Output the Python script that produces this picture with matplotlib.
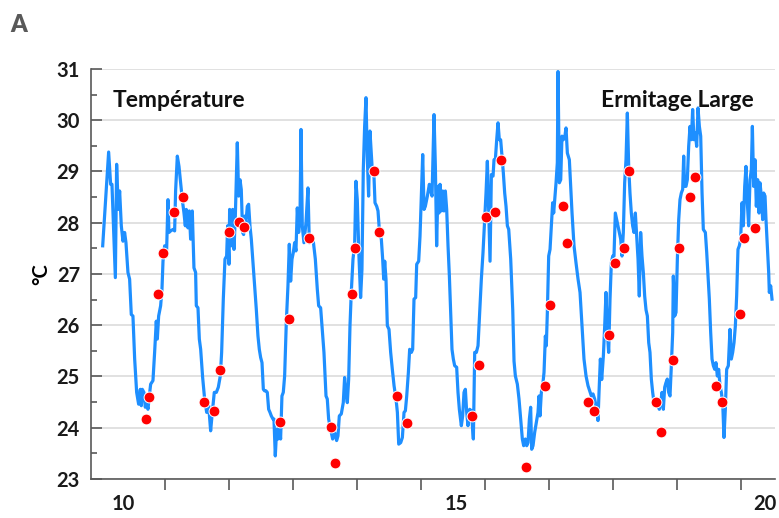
import matplotlib
matplotlib.use("Agg")
import matplotlib.pyplot as plt
from matplotlib.ticker import MultipleLocator, FixedLocator

plt.rcParams['font.family'] = ['Lato', 'DejaVu Sans']
plt.rcParams['font.weight'] = 'bold'

# logger record (day, degC)
day = [9.518, 9.611, 9.642, 9.663, 9.690, 9.716, 9.736, 9.762, 9.783, 9.809, 9.835, 9.861, 9.882, 9.913, 9.939,
       9.965, 9.991, 10.018, 10.049, 10.080, 10.106, 10.122, 10.137, 10.163, 10.184, 10.205, 10.226, 10.247, 10.268,
       10.304, 10.330, 10.356, 10.372, 10.393, 10.424, 10.445, 10.461, 10.487, 10.518, 10.539, 10.554, 10.580, 10.617,
       10.643, 10.658, 10.685, 10.711, 10.737, 10.763, 10.789, 10.810, 10.825, 10.851, 10.872, 10.893, 10.919, 10.945,
       10.971, 10.982, 11.008, 11.029, 11.050, 11.081, 11.112, 11.144, 11.175, 11.206, 11.232, 11.263, 11.295, 11.326,
       11.357, 11.378, 11.404, 11.430, 11.456, 11.472, 11.493, 11.503, 11.529, 11.550, 11.571, 11.592, 11.623, 11.644,
       11.665, 11.685, 11.706, 11.722, 11.738, 11.758, 11.779, 11.800, 11.821, 11.842, 11.868, 11.894, 11.920, 11.946,
       11.967, 11.988, 12.009, 12.030, 12.050, 12.071, 12.092, 12.113, 12.134, 12.155, 12.181, 12.196, 12.217, 12.238,
       12.259, 12.279, 12.300, 12.321, 12.342, 12.363, 12.389, 12.415, 12.436, 12.457, 12.478, 12.499, 12.519, 12.540,
       12.561, 12.582, 12.603, 12.619, 12.639, 12.665, 12.697, 12.728, 12.749, 12.780, 12.811, 12.843, 12.874, 12.895,
       12.926, 12.947, 12.978, 13.010, 13.030, 13.051, 13.082, 13.114, 13.145, 13.176, 13.197, 13.218, 13.249, 13.280,
       13.301, 13.322, 13.343, 13.364, 13.385, 13.405, 13.432, 13.458, 13.478, 13.499, 13.525, 13.551, 13.572, 13.593,
       13.614, 13.635, 13.655, 13.676, 13.697, 13.730, 13.756, 13.776, 13.803, 13.823, 13.849, 13.875, 13.896, 13.912,
       13.928, 13.948, 13.969, 13.995, 14.021, 14.047, 14.074, 14.105, 14.126, 14.147, 14.178, 14.204, 14.230, 14.251,
       14.272, 14.298, 14.318, 14.345, 14.365, 14.386, 14.412, 14.428, 14.459, 14.480, 14.501, 14.522, 14.543, 14.563,
       14.595, 14.626, 14.647, 14.668, 14.699, 14.720, 14.740, 14.761, 14.777, 14.793, 14.814, 14.835, 14.855, 14.876,
       14.897, 14.918, 14.939, 14.960, 14.980, 15.001, 15.022, 15.053, 15.074, 15.095, 15.126, 15.147, 15.168, 15.189,
       15.210, 15.230, 15.257, 15.283, 15.314, 15.335, 15.361, 15.387, 15.413, 15.439, 15.465, 15.491, 15.512, 15.533,
       15.554, 15.575, 15.596, 15.622, 15.637, 15.658, 15.679, 15.700, 15.720, 15.741, 15.762, 15.783, 15.804, 15.825,
       15.846, 15.867, 15.898, 15.930, 15.950, 15.971, 16.002, 16.028, 16.054, 16.080, 16.101, 16.127, 16.148, 16.169,
       16.190, 16.210, 16.226, 16.247, 16.273, 16.299, 16.325, 16.341, 16.356, 16.377, 16.398, 16.419, 16.440, 16.455,
       16.471, 16.492, 16.513, 16.534, 16.554, 16.570, 16.586, 16.607, 16.627, 16.638, 16.659, 16.680, 16.700, 16.721,
       16.742, 16.763, 16.784, 16.815, 16.836, 16.857, 16.888, 16.919, 16.951, 16.982, 17.013, 17.044, 17.076, 17.107,
       17.133, 17.159, 17.185, 17.211, 17.232, 17.263, 17.279, 17.300, 17.321, 17.347, 17.368, 17.388, 17.409, 17.430,
       17.451, 17.472, 17.493, 17.513, 17.534, 17.555, 17.576, 17.597, 17.618, 17.638, 17.659, 17.680, 17.701, 17.722,
       17.743, 17.763, 17.784, 17.805, 17.826, 17.847, 17.868, 17.889, 17.909, 17.930, 17.951, 17.972, 17.993, 18.014,
       18.035, 18.056, 18.076, 18.097, 18.118, 18.139, 18.170, 18.201, 18.222, 18.243, 18.264, 18.285, 18.306, 18.326,
       18.347, 18.368, 18.389, 18.410, 18.431, 18.441, 18.462, 18.483, 18.504, 18.525, 18.545, 18.566, 18.587, 18.603,
       18.618, 18.639, 18.660, 18.681, 18.702, 18.723, 18.743, 18.764, 18.785, 18.806, 18.827, 18.848, 18.869, 18.890,
       18.910, 18.942, 18.963, 18.983, 19.004, 19.025, 19.046, 19.067, 19.088, 19.108, 19.129, 19.150, 19.171, 19.192,
       19.213, 19.233, 19.254, 19.275, 19.301, 19.327, 19.348, 19.369, 19.390, 19.411, 19.431, 19.452, 19.473, 19.494,
       19.515, 19.536, 19.557, 19.577, 19.598, 19.619, 19.640, 19.661, 19.677, 19.697, 19.718, 19.739, 19.760, 19.781,
       19.796, 19.817, 19.838, 19.853, 19.875, 19.890, 19.911, 19.932, 19.942, 19.963, 19.984]
temp = [27.55, 29.38, 28.75, 28.75, 27.80, 26.93, 29.14, 28.26, 28.62, 27.94, 27.64, 27.81, 27.61, 27.03, 26.90,
        26.21, 26.18, 25.34, 24.69, 24.46, 24.75, 24.43, 24.75, 24.69, 24.40, 24.49, 24.36, 24.62, 24.85,
        24.92, 25.47, 26.08, 25.73, 26.18, 26.38, 26.70, 27.25, 27.55, 27.48, 28.45, 27.81, 27.84, 27.87,
        27.84, 28.62, 29.30, 29.10, 28.78, 28.45, 28.19, 27.94, 28.26, 27.90, 28.23, 27.68, 28.23, 27.12,
        27.03, 26.38, 26.34, 25.73, 25.53, 24.98, 24.56, 24.30, 24.43, 23.94, 24.30, 24.69, 24.69, 24.79,
        25.01, 25.47, 26.51, 27.29, 27.35, 27.94, 27.19, 28.26, 27.55, 28.26, 27.48, 28.13, 29.56, 28.52,
        28.84, 28.65, 27.81, 27.77, 28.13, 28.00, 28.32, 28.36, 27.94, 27.68, 27.22, 26.77, 26.31, 25.79,
        25.53, 25.37, 25.27, 24.75, 24.72, 24.72, 24.69, 24.36, 24.30, 24.23, 24.17, 24.17, 23.45, 23.97,
        23.78, 24.04, 23.78, 24.62, 24.69, 25.01, 26.05, 26.77, 27.58, 26.86, 27.29, 27.42, 27.61, 27.45,
        28.29, 27.81, 28.06, 29.82, 27.94, 27.61, 28.00, 28.68, 27.61, 27.68, 27.64, 27.29, 26.70, 26.38,
        26.34, 25.99, 25.47, 24.62, 24.56, 24.17, 23.97, 23.78, 23.91, 23.75, 23.84, 24.23, 24.27, 24.49,
        24.98, 24.69, 24.49, 24.94, 25.99, 26.64, 27.29, 27.58, 28.81, 28.45, 27.35, 26.54, 27.09, 29.04,
        29.88, 30.44, 29.30, 28.52, 29.79, 29.10, 29.04, 28.39, 28.32, 28.23, 27.77, 27.68, 27.29, 26.90,
        27.25, 26.90, 25.99, 25.92, 25.47, 25.14, 24.82, 24.56, 24.30, 23.68, 23.71, 23.81, 24.30, 24.33,
        24.62, 25.08, 25.53, 25.47, 25.53, 26.51, 26.54, 27.19, 27.25, 27.74, 28.52, 29.33, 28.26, 28.32,
        28.52, 28.75, 28.62, 28.52, 30.11, 29.10, 27.55, 28.71, 28.19, 28.75, 28.23, 28.62, 28.23, 28.62,
        28.26, 27.55, 26.96, 26.25, 25.53, 25.34, 25.21, 25.18, 24.69, 24.36, 24.04, 24.23, 24.69, 24.75,
        24.30, 24.04, 24.36, 24.33, 23.78, 25.47, 25.47, 25.60, 26.25, 26.90, 27.42, 28.06, 28.58, 29.20,
        28.19, 27.25, 28.94, 28.91, 29.23, 29.23, 29.62, 29.95, 29.62, 29.62, 29.30, 28.97, 28.58, 28.32,
        27.94, 27.87, 27.29, 26.30, 25.30, 25.01, 24.85, 24.56, 24.17, 23.78, 23.65, 23.78, 23.65, 23.71,
        24.17, 24.40, 23.58, 23.65, 23.91, 24.10, 24.30, 24.62, 24.23, 24.69, 24.82, 25.08, 25.79, 25.60,
        26.25, 27.35, 27.48, 27.94, 28.39, 28.19, 28.45, 28.78, 29.17, 30.95, 28.78, 28.84, 29.69, 29.62,
        29.66, 29.85, 29.36, 29.23, 28.71, 28.19, 27.55, 27.22, 26.90, 26.64, 25.99, 25.34, 25.01, 24.82,
        24.72, 24.62, 24.66, 24.56, 24.43, 24.14, 24.69, 25.34, 24.94, 25.40, 25.99, 26.64, 25.86, 25.47,
        26.51, 27.22, 27.35, 27.35, 28.19, 28.06, 27.94, 27.81, 27.68, 27.35, 27.81, 28.78, 29.23, 30.14,
        29.10, 28.58, 28.19, 27.94, 27.81, 28.19, 27.74, 27.29, 26.57, 27.81, 27.35, 27.03, 26.57, 26.30,
        26.18, 25.66, 25.47, 24.95, 24.69, 24.49, 24.49, 24.43, 24.36, 24.49, 24.69, 24.36, 24.79, 24.88,
        24.95, 24.69, 24.62, 25.21, 25.86, 26.96, 26.18, 26.25, 27.29, 28.06, 28.45, 28.58, 28.65, 29.30,
        28.71, 28.71, 28.84, 29.49, 29.88, 29.62, 30.21, 29.62, 29.75, 29.49, 30.24, 29.88, 29.69, 28.58,
        27.87, 27.81, 27.42, 26.96, 26.51, 25.86, 25.34, 25.21, 25.14, 25.27, 25.01, 25.14, 24.82, 24.69,
        24.49, 23.81, 24.36, 25.14, 25.21, 25.92, 25.34, 25.47, 25.66, 25.99, 26.57, 27.48, 27.55, 27.68,
        28.39, 27.94, 28.71, 29.10, 28.39, 27.94, 28.84, 29.04, 29.88, 28.71, 29.23, 28.32, 28.84, 28.19,
        28.78, 28.52, 28.06, 28.58, 28.52, 28.06, 27.55, 27.03, 26.64, 26.77, 26.51]

# manual readings
dot_day = [10.200, 10.237, 10.383, 10.461, 10.633, 10.769, 11.097, 11.253, 11.347, 11.493, 11.649, 11.727,
           12.285, 12.436, 12.749, 13.093, 13.155, 13.416, 13.463, 13.757, 13.844, 14.126, 14.282, 15.293,
           15.403, 15.512, 15.658, 15.747, 16.143, 16.435, 16.513, 16.716, 16.779, 17.107, 17.201, 17.430,
           17.529, 17.675, 17.743, 18.165, 18.248, 18.441, 18.530, 18.707, 18.775, 19.103, 19.202, 19.479,
           19.546, 19.723]
dot_temp = [24.18, 24.60, 26.60, 27.40, 28.21, 28.51, 24.51, 24.32, 25.12, 27.81, 28.01, 27.92,
            24.12, 26.12, 27.71, 24.01, 23.31, 26.60, 27.50, 29.01, 27.81, 24.62, 24.10, 24.22,
            25.22, 28.11, 28.21, 29.22, 23.23, 24.81, 26.40, 28.32, 27.60, 24.51, 24.32, 25.81,
            27.21, 27.50, 29.01, 24.51, 23.91, 25.32, 27.50, 28.50, 28.90, 24.81, 24.51, 26.21,
            27.70, 27.90]

day_labels = ['10', '15', '20']
day_label_pos = [9.84, 15.05, 19.87]
day_bounds = [10.5, 11.5, 12.5, 13.5, 14.5, 15.5, 16.5, 17.5, 18.5, 19.5]

fig = plt.figure(figsize=(7.79, 5.18), dpi=100)
ax = fig.add_axes([0.1168, 0.0753, 0.878, 0.7915])

ax.plot(day, temp, color='#1e8fff', lw=2.3, zorder=3, solid_joinstyle='round')
ax.plot(dot_day, dot_temp, 'o', color='#ff0000', ms=7.8, mec='white', mew=0.7, zorder=4)

ax.set_xlim(9.335, 20.03)
ax.set_ylim(23, 31)

ax.yaxis.set_major_locator(MultipleLocator(1))
ax.yaxis.set_minor_locator(MultipleLocator(0.5))
ax.grid(axis='y', which='major', color='#d9d9d9', lw=1.1, zorder=0)
ax.set_axisbelow(True)

ax.xaxis.set_major_locator(FixedLocator(day_label_pos))
ax.set_xticklabels(day_labels)
ax.xaxis.set_minor_locator(FixedLocator(day_bounds))
ax.tick_params(axis='x', which='major', length=0, pad=11, labelsize=14.5, labelcolor='#1a1a1a')
ax.tick_params(axis='x', which='minor', length=8, width=1.2, color='#595959', direction='out')
ax.tick_params(axis='y', which='major', length=8, width=1.2, color='#595959', direction='in',
               pad=8, labelsize=14.5, labelcolor='#1a1a1a')
ax.tick_params(axis='y', which='minor', length=4.5, width=1.2, color='#595959', direction='in')

for s in ['top', 'right']:
    ax.spines[s].set_visible(False)
for s in ['left', 'bottom']:
    ax.spines[s].set_color('#595959')
    ax.spines[s].set_linewidth(1.2)

ax.set_ylabel('°C', fontsize=14.5, fontweight='bold', labelpad=4)

ax.text(0.031, 0.922, 'Température', transform=ax.transAxes, fontsize=16.5,
        fontweight='bold', va='center', ha='left', color='#111111')
ax.text(0.969, 0.922, 'Ermitage Large', transform=ax.transAxes, fontsize=16.5,
        fontweight='bold', va='center', ha='right', color='#111111')
fig.text(0.013, 0.951, 'A', fontsize=17, fontweight='heavy', color='#595959', va='center', ha='left')

fig.savefig('out.png', dpi=100)
